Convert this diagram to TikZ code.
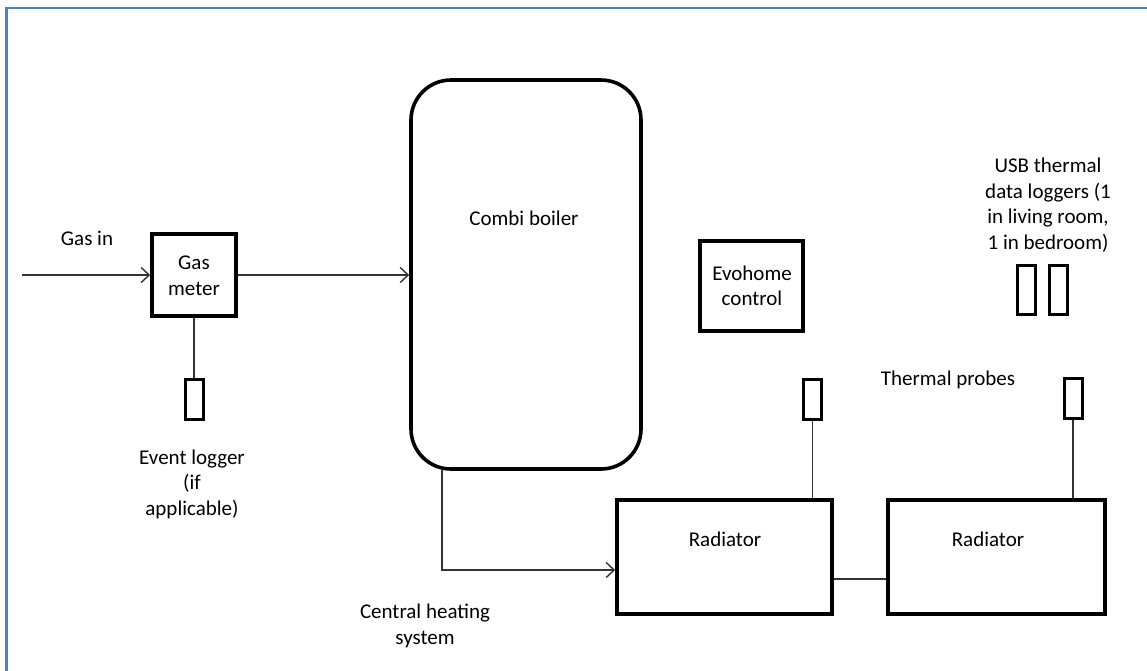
\documentclass[tikz,border=0pt]{standalone}
\usepackage{fontspec}
\setmainfont{Carlito}
\usetikzlibrary{arrows.meta}
\definecolor{frameblue}{HTML}{4F81C0}
\definecolor{wire}{HTML}{333333}
\tikzset{
  box/.style={draw=black, line width=3.6pt, fill=white, inner sep=0pt},
  logger/.style={draw=black, line width=3pt, minimum width=18pt, minimum height=40pt, inner sep=0pt},
  wireline/.style={draw=wire, line width=1.4pt},
  flow/.style={wireline, -{Straight Barb[length=8pt,width=15pt,line width=1.4pt]}},
  lbl/.style={align=center, inner sep=0pt, text=black, font=\fontsize{21}{25.5}\selectfont}
}
\begin{document}
\begin{tikzpicture}[x=1pt,y=-1pt]
\useasboundingbox (0,0) rectangle (1147,670);
% frame
\draw[frameblue, line width=2.6pt] (6.5,671) -- (6.5,8) -- (1148,8);

% nodes
\node[box, minimum width=84pt, minimum height=82pt] (gm) at (194,275) {};
\node[lbl] at (194,276) {Gas\\meter};
\node[logger] (el) at (194,399.5) {};
\node[lbl] at (192,484) {Event logger\\(if\\applicable)};

\node[box, rounded corners=40pt, minimum width=230pt, minimum height=389pt] (cb) at (526,274.5) {};
\node[lbl] at (524,218) {Combi boiler};

\node[box, minimum width=103pt, minimum height=90pt] (evo) at (751.5,286) {};
\node[lbl] at (752,286) {Evohome\\control};

\node[box, minimum width=215pt, minimum height=114pt] (r1) at (724.5,557) {};
\node[lbl] at (725,539) {Radiator};
\node[box, minimum width=217pt, minimum height=114pt] (r2) at (996.5,557) {};
\node[lbl] at (988,539) {Radiator};

\node[logger] (p1) at (812.5,399.5) {};
\node[logger] (p2) at (1073,398.5) {};
\node[lbl] at (948,380) {Thermal probes};

\node[logger, minimum height=49pt] (u1) at (1026.5,290) {};
\node[logger, minimum height=49pt] (u2) at (1058,290) {};
\node[lbl] at (1048,205) {USB thermal\\data loggers (1\\in living room,\\1 in bedroom)};

\node[lbl] at (87,238) {Gas in};
\node[lbl] at (425,626) {Central heating\\system};

% connectors
\coordinate (gasin) at (22,275);
\draw[flow] (gasin) -- (gm.west);
\draw[flow] (gm.east) -- (gm.east -| cb.west);
\draw[wireline] (gm.south) -- (el.north);
\coordinate (cbout) at (442,469);
\draw[flow] (cbout) |- (r1.west |- 0,570);
\draw[wireline] (r1.east |- 0,579) -- (r2.west |- 0,579);
\draw[wireline] (p1.south) -- (p1.south |- r1.north);
\draw[wireline] (p2.south) -- (p2.south |- r2.north);
\end{tikzpicture}
\end{document}
